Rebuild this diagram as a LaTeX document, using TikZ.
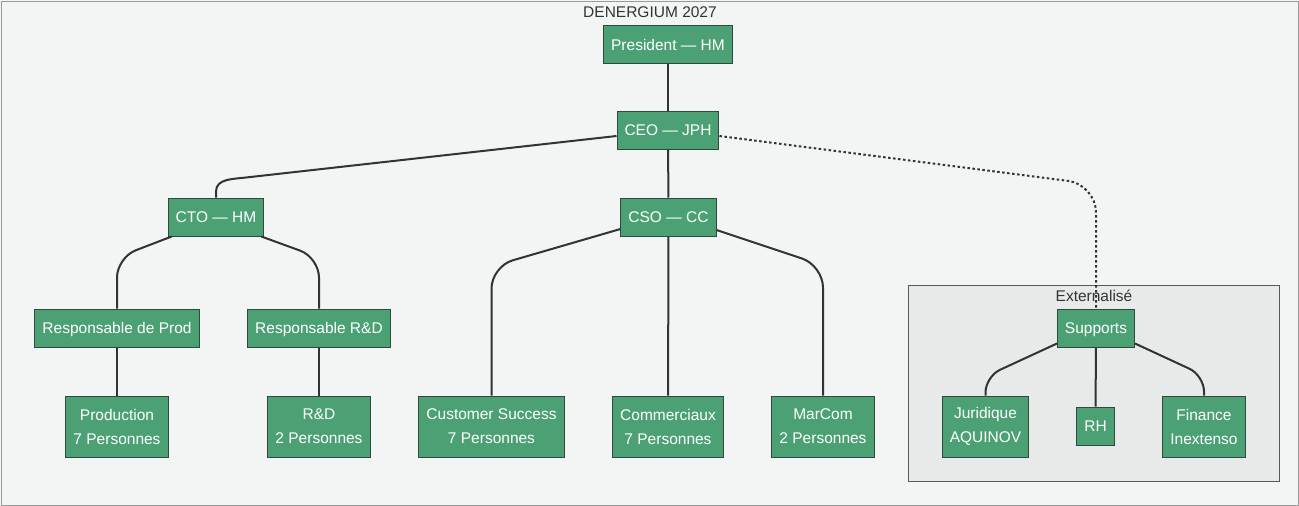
\documentclass[tikz,border=0pt]{standalone}
\usepackage{fontspec}
\setmainfont{Liberation Sans}
\usepackage{tikz}
\usetikzlibrary{positioning}
\definecolor{boxgreen}{HTML}{4BA174}
\definecolor{boxline}{HTML}{2F4A3C}
\definecolor{bgpage}{HTML}{F3F5F4}
\definecolor{extfill}{HTML}{E8EAE9}
\definecolor{inkgray}{HTML}{333333}
\tikzset{box/.style={rectangle,draw=boxline,fill=boxgreen,text=white,line width=1pt,inner xsep=7.5pt,inner ysep=2pt,align=center,font=\fontsize{15.5}{24}\selectfont},
  unit/.style={box,minimum height=38pt,text height=11.1pt,text depth=0pt},
  team/.style={box,minimum height=61pt},
  link/.style={draw=inkgray,line width=2pt},
  dotlink/.style={link,dash pattern=on 2.5pt off 2.5pt},
  lab/.style={text=inkgray,font=\fontsize{15.5}{18}\selectfont}}

\begin{document}
\begin{tikzpicture}[x=1pt,y=-1pt]
        \fill[bgpage] (0,0) rectangle (1299,506);
        \draw[gray!80,line width=1pt] (1,1) rectangle (1298,505);
        \useasboundingbox (0,0) rectangle (1299,506);
        \node[lab] (t) at (650,12) {DENERGIUM 2027};
        \draw[fill=extfill,draw=gray!70!black,line width=1pt] (908,285) rectangle (1279,481);
        \node[lab] (x) at (1094,296) {Externalisé};

        \node[unit] (a) at (668,44.5) {President — HM};
        \node[unit] (b) at (668,130) {CEO — JPH};
        \node[unit] (c) at (216,217) {CTO — HM};
        \node[unit] (d) at (668.5,217) {CSO — CC};
        \node[unit] (e) at (117,328) {Responsable de Prod};
        \node[unit] (f) at (319,328) {Responsable R\&D};
        \node[team] (g) at (117,426.5) {Production\\7 Personnes};
        \node[team] (h) at (319,426.5) {R\&D\\2 Personnes};
        \node[team] (i) at (491.5,426.5) {Customer Success\\7 Personnes};
        \node[team] (j) at (668,426.5) {Commerciaux\\7 Personnes};
        \node[team] (k) at (823,426.5) {MarCom\\2 Personnes};
        \node[unit] (l) at (1096,328) {Supports};
        \node[team] (m) at (985.5,426.5) {Juridique\\AQUINOV};
        \node[unit] (n) at (1095.5,426) {RH};
        \node[team] (o) at (1204,426.5) {Finance\\Inextenso};

        \draw [link] (a) -- (b);
        \draw [link] ([yshift=-6pt]b.west) -- ([xshift=30pt,yshift=20pt]c.north) to[out=187,in=90] ([yshift=6pt]c.north) -- (c.north);
        \draw [link] (b) -- (d);
        \draw [dotlink,rounded corners=28pt] ([yshift=-6pt]b.east) -- ([yshift=124pt]l.north) -- (l.north);
        \draw [link,rounded corners=20pt] ([xshift=4pt]c.south west) -- ([yshift=51pt]e.north) -- (e.north);
        \draw [link,rounded corners=20pt] ([xshift=-3pt]c.south east) -- ([yshift=51pt]f.north) -- (f.north);
        \draw [link] (e) -- (g);
        \draw [link] (f) -- (h);
        \draw [link,rounded corners=22pt] ([yshift=-12pt]d.west) -- ([yshift=129pt]i.north) -- (i.north);
        \draw [link] (d) -- (j);
        \draw [link,rounded corners=22pt] ([yshift=-13pt]d.east) -- ([yshift=130pt]k.north) -- (k.north);
        \draw [link,rounded corners=16pt] ([yshift=4pt]l.south west) -- ([yshift=19pt]m.north) -- (m.north);
        \draw [link] (l) -- (n);
        \draw [link,rounded corners=16pt] ([yshift=4pt]l.south east) -- ([yshift=20pt]o.north) -- (o.north);
    \end{tikzpicture}
\end{document}
